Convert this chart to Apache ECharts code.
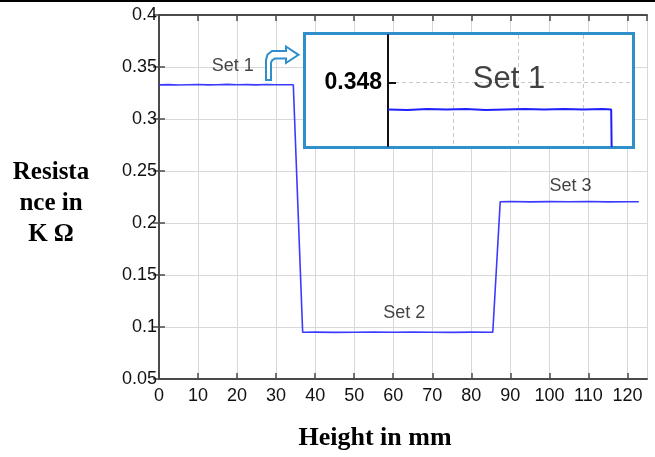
<!DOCTYPE html>
<html><head><meta charset="utf-8">
<script src="https://cdn.jsdelivr.net/npm/echarts@6/dist/echarts.min.js"></script>
<style>html,body{margin:0;padding:0;background:#fff}#c{width:655px;height:457px}</style>
</head><body><div id="c"></div>
<script>
// Main curve: height (mm) vs resistance (kΩ)
const heightMM = [0, 2.5, 5, 7.5, 10, 12.5, 15, 17.5, 20, 22.5, 25, 27.5, 30, 32.5, 34.4,
  36.8, 40, 45, 50, 55, 60, 65, 70, 75, 80, 85.5,
  87.4, 90, 95, 100, 105, 110, 115, 120, 122.9];
const resistance = [0.3328, 0.3331, 0.3327, 0.3330, 0.3332, 0.3328, 0.3330, 0.3333, 0.3329, 0.3331, 0.3328, 0.3332, 0.3330, 0.3329, 0.3330,
  0.0949, 0.0951, 0.0948, 0.0950, 0.0952, 0.0949, 0.0951, 0.0950, 0.0948, 0.0951, 0.0950,
  0.2205, 0.2207, 0.2203, 0.2206, 0.2204, 0.2207, 0.2203, 0.2205, 0.2204];

// Inset (zoom on Set 1)
const insetX = [0, 3, 6, 9, 12, 15, 18, 21, 24, 27, 30, 33, 34.3, 34.45];
const insetY = [0.34749, 0.34748, 0.34750, 0.34749, 0.34750, 0.34748, 0.34749, 0.34750, 0.34749, 0.34750, 0.34749, 0.34750, 0.34749, 0.3460];
const insetTick = [0.348];

// Annotations
const annotText = ['Set 1', 'Set 2', 'Set 3'];
const annotX = [18.9, 62.8, 105.4];
const annotY = [0.351, 0.1135, 0.2351];
const insetAnnotText = ['Set 1'];
const insetAnnotX = [18.6];
const insetAnnotY = [0.34806];

// Axis ticks
const xTickLabels = [0, 10, 20, 30, 40, 50, 60, 70, 80, 90, 100, 110, 120];
const yTickLabels = ['0.05', '0.1', '0.15', '0.2', '0.25', '0.3', '0.35', '0.4'];

const chart = echarts.init(document.getElementById('c'), null, {renderer: 'canvas'});

const axisCol = '#4a4a4a';
const tickFont = {fontFamily: 'Liberation Sans, Arial, sans-serif', fontSize: 18, color: '#111'};
const sans = 'Liberation Sans, Arial, sans-serif';

const mainLine = heightMM.map((x, i) => [x, resistance[i]]);
const insetLine = insetX.map((x, i) => [x, insetY[i]]);
const annots = annotText.map((t, i) => ({value: [annotX[i], annotY[i]], name: t}));
const insetAnnots = insetAnnotText.map((t, i) => ({value: [insetAnnotX[i], insetAnnotY[i]], name: t}));

const option = {
  animation: false,
  backgroundColor: '#fff',
  grid: [
    {left: 159, top: 15, right: 8, bottom: 78},
    {left: 388, top: 35, width: 244, height: 111, z: 20}
  ],
  xAxis: [
    {gridIndex: 0, type: 'value', min: 0, max: 125, interval: 10,
      axisLine: {lineStyle: {color: axisCol, width: 2}},
      axisTick: {inside: true, length: 6, lineStyle: {color: axisCol, width: 1.5}},
      axisLabel: Object.assign({margin: 8, showMaxLabel: false,
        formatter: v => (xTickLabels.indexOf(v) >= 0 ? String(v) : '')}, tickFont),
      splitLine: {show: true, lineStyle: {color: '#d8d8d8', width: 1}}
    },
    {gridIndex: 0, type: 'value', min: 0, max: 125, interval: 10, position: 'top',
      axisLine: {lineStyle: {color: axisCol, width: 2}},
      axisTick: {inside: true, length: 6, lineStyle: {color: axisCol, width: 1.5}},
      axisLabel: {show: false}, splitLine: {show: false}
    },
    {gridIndex: 1, type: 'value', min: 0, max: 37.5, interval: 10, z: 20,
      axisLine: {show: false}, axisTick: {show: false}, axisLabel: {show: false},
      splitLine: {show: true, showMinLine: false, showMaxLine: false, lineStyle: {color: '#c8c8c8', type: [4, 3], width: 1}}
    }
  ],
  yAxis: [
    {gridIndex: 0, type: 'value', min: 0.05, max: 0.4, interval: 0.05,
      axisLine: {lineStyle: {color: axisCol, width: 2}},
      axisTick: {inside: true, length: 6, lineStyle: {color: axisCol, width: 1.5}},
      axisLabel: Object.assign({margin: 2, formatter: v => {
        const s = String(+v.toFixed(2));
        return yTickLabels.indexOf(s) >= 0 ? s : '';
      }}, tickFont),
      splitLine: {show: true, lineStyle: {color: '#d8d8d8', width: 1}}
    },
    {gridIndex: 0, type: 'value', min: 0.05, max: 0.4, interval: 0.05, position: 'right',
      axisLine: {show: true, lineStyle: {color: axisCol, width: 2}},
      axisTick: {show: true, inside: true, length: 6, lineStyle: {color: axisCol, width: 1.5}},
      axisLabel: {show: false}, splitLine: {show: false}
    },
    {gridIndex: 1, type: 'value', min: 0.3468, max: 0.3489, interval: 0.0012, z: 20,
      axisLine: {show: true, lineStyle: {color: '#111', width: 2}},
      axisTick: {show: true, inside: true, length: 8, lineStyle: {color: '#111', width: 2}},
      axisLabel: {show: true, margin: 6, fontFamily: sans, fontWeight: 'bold', fontSize: 23, color: '#000',
        showMinLabel: false, showMaxLabel: false,
        formatter: v => (insetTick.some(t => Math.abs(t - v) < 1e-6) ? t3(v) : '')},
      splitLine: {show: true, showMinLine: false, showMaxLine: false, lineStyle: {color: '#c8c8c8', type: [4, 3], width: 1}}
    }
  ],
  series: [
    {type: 'line', xAxisIndex: 0, yAxisIndex: 0, data: mainLine, showSymbol: false, symbol: 'none',
      lineStyle: {color: '#3b3bff', width: 1.6}, z: 2, silent: true},
    {type: 'scatter', xAxisIndex: 0, yAxisIndex: 0, data: annots, symbolSize: 0, silent: true, z: 3,
      label: {show: true, position: 'inside', formatter: p => p.name, fontFamily: sans, fontSize: 18, color: '#111'}},
    {type: 'line', xAxisIndex: 2, yAxisIndex: 2, data: insetLine, showSymbol: false, symbol: 'none',
      lineStyle: {color: '#2020ff', width: 2}, z: 22, silent: true, clip: true},
    {type: 'scatter', xAxisIndex: 2, yAxisIndex: 2, data: insetAnnots, symbolSize: 0, silent: true, z: 22,
      label: {show: true, position: 'inside', formatter: p => p.name, fontFamily: sans, fontSize: 31, color: '#111'}}
  ],
  graphic: [
    {type: 'rect', z: 100, shape: {x: 0, y: 0, width: 655, height: 2}, style: {fill: '#000'}},
    {type: 'rect', z: 10, shape: {x: 304.5, y: 33.5, width: 329, height: 114},
      style: {fill: '#fff', stroke: '#2f8fca', lineWidth: 3}},
    {type: 'polygon', z: 10, shape: {points: [
      [266, 80], [266, 60], [267.5, 54.5], [272, 51], [286, 51], [286, 46.5], [298.5, 54.8],
      [286, 63], [286, 58.5], [275, 58.5], [272, 60.5], [271, 63], [271, 80]]},
      style: {fill: '#fff', stroke: '#2f8fca', lineWidth: 2}},
    {type: 'text', z: 100, x: 51, y: 157, style: {
      text: 'Resista\nnce in\nK Ω', fill: '#000', align: 'center', verticalAlign: 'top',
      font: 'bold 25px "Liberation Serif", "Times New Roman", serif', lineHeight: 31}},
    {type: 'text', z: 100, x: 375, y: 438, style: {
      text: 'Height in mm', fill: '#000', align: 'center', verticalAlign: 'middle',
      font: 'bold 26px "Liberation Serif", "Times New Roman", serif'}}
  ]
};
function t3(v) { return v.toFixed(3); }
chart.setOption(option);
</script></body></html>
